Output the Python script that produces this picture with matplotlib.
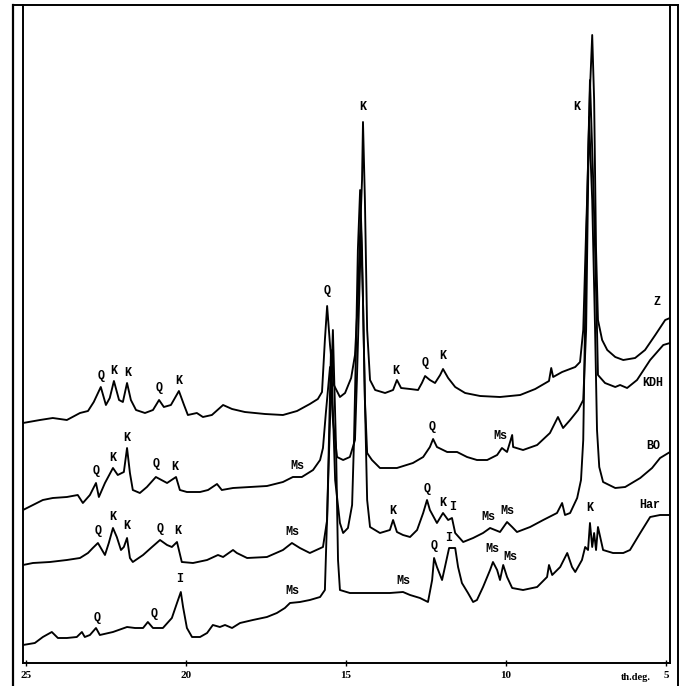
"""
XRD patterns (Z, KDH, BO, Har) with phase labels.
Intensities are arbitrary units read off the scan, stacked as in the original.
"""

import matplotlib
matplotlib.use("Agg")
import matplotlib.pyplot as plt
from matplotlib.lines import Line2D

# (two-theta, intensity)
Z_PATTERN = [
    (25.09, 240), (24.56, 243), (24.16, 245), (23.72, 243), (23.31, 250), (23.06, 252),
    (22.88, 261), (22.66, 276), (22.5, 258), (22.38, 265), (22.25, 282), (22.09, 263),
    (21.97, 261), (21.84, 280), (21.72, 263), (21.56, 253), (21.28, 250), (21.03, 253),
    (20.84, 263), (20.69, 256), (20.47, 258), (20.22, 272), (20.06, 258), (19.94, 248),
    (19.66, 250), (19.47, 246), (19.19, 248), (18.84, 258), (18.56, 254), (18.16, 251),
    (17.53, 249), (16.97, 248), (16.53, 252), (16.13, 259), (15.88, 264), (15.75, 271),
    (15.66, 323), (15.59, 357), (15.5, 318), (15.38, 278), (15.19, 266), (15.03, 270),
    (14.84, 285), (14.72, 308), (14.63, 363), (14.56, 431), (14.5, 483), (14.47, 541),
    (14.41, 463), (14.34, 333), (14.25, 283), (14.09, 273), (13.78, 270), (13.53, 273),
    (13.41, 283), (13.28, 275), (13.0, 274), (12.75, 273), (12.63, 280), (12.53, 287),
    (12.38, 283), (12.22, 280), (12.06, 288), (11.97, 294), (11.81, 285), (11.59, 276),
    (11.28, 270), (10.81, 267), (10.19, 266), (9.56, 268), (9.09, 274), (8.66, 282),
    (8.59, 295), (8.53, 286), (8.25, 291), (7.84, 296), (7.69, 301), (7.59, 333),
    (7.5, 433), (7.47, 463), (7.38, 573), (7.31, 628), (7.25, 563), (7.19, 413),
    (7.13, 343), (7.0, 323), (6.84, 313), (6.59, 306), (6.34, 303), (5.97, 305),
    (5.66, 313), (5.34, 328), (5.03, 343), (4.88, 345),
]

BO_PATTERN = [
    (25.09, 153), (24.78, 158), (24.47, 163), (24.16, 165), (23.72, 166), (23.38, 168),
    (23.22, 160), (23.0, 168), (22.81, 180), (22.72, 166), (22.53, 180), (22.28, 195),
    (22.13, 188), (21.94, 191), (21.84, 215), (21.75, 190), (21.66, 173), (21.44, 170),
    (21.22, 176), (20.94, 186), (20.59, 180), (20.31, 186), (20.19, 173), (19.97, 171),
    (19.56, 171), (19.31, 173), (19.03, 179), (18.88, 173), (18.53, 175), (18.0, 176),
    (17.47, 177), (16.97, 181), (16.66, 186), (16.38, 186), (16.03, 193), (15.81, 203),
    (15.72, 215), (15.63, 250), (15.5, 296), (15.41, 243), (15.28, 206), (15.09, 203),
    (14.88, 206), (14.72, 223), (14.66, 283), (14.59, 363), (14.53, 433), (14.47, 363),
    (14.41, 263), (14.34, 210), (14.19, 203), (13.94, 195), (13.41, 195), (12.91, 200),
    (12.59, 206), (12.38, 216), (12.28, 224), (12.16, 216), (11.84, 211), (11.53, 211),
    (11.22, 206), (10.91, 203), (10.59, 203), (10.28, 208), (10.13, 215), (9.97, 211),
    (9.81, 228), (9.78, 216), (9.47, 213), (9.03, 218), (8.63, 230), (8.38, 246),
    (8.22, 235), (8.0, 243), (7.75, 253), (7.59, 263), (7.5, 333), (7.41, 546),
    (7.31, 463), (7.22, 333), (7.16, 233), (7.09, 196), (6.97, 181), (6.59, 175),
    (6.28, 176), (5.81, 185), (5.44, 195), (5.19, 205), (4.88, 211),
]

KDH_PATTERN = [
    (25.09, 98), (24.78, 100), (24.25, 101), (23.72, 103), (23.31, 105), (23.06, 110),
    (22.91, 115), (22.75, 120), (22.53, 108), (22.41, 120), (22.28, 135), (22.16, 126),
    (22.03, 113), (21.94, 116), (21.84, 125), (21.75, 105), (21.66, 101), (21.34, 108),
    (21.06, 116), (20.81, 123), (20.59, 118), (20.44, 116), (20.28, 121), (20.13, 101),
    (19.78, 100), (19.34, 103), (19.0, 108), (18.84, 106), (18.53, 113), (18.41, 110),
    (18.09, 105), (17.47, 106), (16.97, 113), (16.69, 120), (16.44, 115), (16.13, 110),
    (15.72, 116), (15.59, 143), (15.47, 313), (15.34, 183), (15.19, 140), (15.09, 130),
    (14.94, 135), (14.81, 158), (14.75, 223), (14.69, 313), (14.63, 413), (14.56, 473),
    (14.5, 413), (14.41, 263), (14.34, 163), (14.25, 136), (13.94, 130), (13.63, 133),
    (13.53, 143), (13.41, 131), (13.22, 128), (13.0, 126), (12.78, 133), (12.59, 150),
    (12.47, 163), (12.38, 153), (12.16, 140), (11.97, 150), (11.81, 143), (11.69, 145),
    (11.59, 130), (11.34, 121), (11.03, 125), (10.72, 130), (10.5, 135), (10.19, 131),
    (9.97, 141), (9.81, 136), (9.66, 131), (9.25, 136), (8.84, 143), (8.41, 150),
    (8.25, 160), (8.16, 148), (8.0, 150), (7.78, 165), (7.66, 183), (7.59, 223),
    (7.5, 413), (7.38, 583), (7.28, 483), (7.22, 413), (7.16, 333), (7.13, 288),
    (6.91, 280), (6.59, 276), (6.44, 278), (6.22, 275), (5.91, 283), (5.5, 303),
    (5.09, 318), (4.88, 320),
]

HAR_PATTERN = [
    (25.09, 18), (24.72, 20), (24.47, 26), (24.19, 31), (24.0, 25), (23.72, 25),
    (23.41, 26), (23.25, 31), (23.16, 26), (23.0, 28), (22.81, 35), (22.69, 28),
    (22.28, 31), (21.84, 36), (21.59, 35), (21.34, 35), (21.19, 41), (21.03, 35),
    (20.72, 35), (20.44, 45), (20.28, 60), (20.16, 71), (20.09, 56), (19.97, 35),
    (19.81, 26), (19.56, 26), (19.34, 30), (19.16, 38), (18.94, 36), (18.78, 38),
    (18.56, 35), (18.31, 40), (17.91, 43), (17.47, 46), (17.16, 50), (16.91, 55),
    (16.75, 60), (16.44, 61), (16.13, 63), (15.81, 66), (15.66, 73), (15.5, 243),
    (15.41, 333), (15.31, 213), (15.25, 103), (15.19, 73), (14.88, 70), (14.25, 70),
    (13.63, 70), (13.22, 71), (13.0, 68), (12.69, 65), (12.44, 61), (12.31, 83),
    (12.25, 105), (12.16, 96), (12.0, 83), (11.91, 96), (11.78, 115), (11.59, 115),
    (11.5, 96), (11.38, 80), (11.19, 70), (11.03, 61), (10.91, 63), (10.72, 76),
    (10.5, 93), (10.41, 101), (10.28, 93), (10.19, 83), (10.09, 98), (9.97, 86),
    (9.81, 75), (9.47, 73), (9.03, 76), (8.72, 86), (8.66, 98), (8.56, 88),
    (8.31, 96), (8.09, 110), (7.94, 96), (7.84, 91), (7.63, 103), (7.53, 116),
    (7.44, 113), (7.38, 140), (7.31, 116), (7.25, 130), (7.19, 113), (7.13, 136),
    (7.06, 126), (6.97, 113), (6.66, 110), (6.34, 110), (6.13, 113), (5.81, 130),
    (5.5, 146), (5.19, 148), (4.88, 148),
]

# (label, two-theta, intensity) for peak and sample labels
Z_LABELS = [
    ("Q", 22.66, 287), ("K", 22.25, 292), ("K", 21.81, 290), ("Q", 20.84, 275),
    ("K", 20.22, 282), ("Q", 15.59, 372), ("K", 14.47, 556), ("K", 13.44, 292),
    ("Q", 12.53, 300), ("K", 11.97, 307), ("K", 7.78, 556), ("Z", 5.28, 361),
]
BO_LABELS = [
    ("Q", 22.81, 192), ("K", 22.28, 205), ("K", 21.84, 225), ("Q", 20.94, 199),
    ("K", 20.34, 196), ("Ms", 16.53, 197), ("Q", 12.31, 236), ("Ms", 10.19, 227),
    ("BO", 5.41, 217),
]
KDH_LABELS = [
    ("Q", 22.75, 132), ("K", 22.28, 146), ("K", 21.84, 137), ("Q", 20.81, 134),
    ("K", 20.25, 132), ("Ms", 16.69, 131), ("K", 13.53, 152), ("Q", 12.47, 174),
    ("K", 11.97, 160), ("I", 11.66, 156), ("Ms", 10.56, 146), ("Ms", 9.97, 152),
    ("KDH", 5.41, 280),
]
HAR_LABELS = [
    ("Q", 22.78, 45), ("Q", 21.0, 49), ("I", 20.19, 84), ("Ms", 16.69, 72),
    ("Ms", 13.22, 82), ("Q", 12.25, 117), ("I", 11.81, 125), ("Ms", 10.44, 114),
    ("Ms", 9.88, 106), ("K", 7.38, 155), ("Har", 5.5, 158),
]

TICKS = [25, 20, 15, 10, 5]


def plot_pattern(ax, pattern, labels):
    theta = [p[0] for p in pattern]
    inten = [p[1] for p in pattern]
    ax.plot(theta, inten, color="black", linewidth=1.35,
            solid_joinstyle="round", solid_capstyle="round")
    for text, t, i in labels:
        ax.text(t, i, text, ha="center", va="center", fontsize=8.5,
                family="Liberation Mono", weight="bold")


def main():
    fig = plt.figure(figsize=(6.84, 6.86), dpi=100)
    ax = fig.add_axes([23 / 684, 23 / 686, 647 / 684, 658 / 686])

    for pattern, labels in [(Z_PATTERN, Z_LABELS), (BO_PATTERN, BO_LABELS),
                            (KDH_PATTERN, KDH_LABELS), (HAR_PATTERN, HAR_LABELS)]:
        plot_pattern(ax, pattern, labels)

    ax.set_xlim(25.09, 4.88)
    ax.set_ylim(0, 658)
    ax.set_yticks([])
    ax.set_xticks(TICKS)
    ax.set_xticklabels([str(t) for t in TICKS], family="Liberation Serif",
                       weight="bold", fontsize=8)
    ax.tick_params(axis="x", direction="inout", length=5, width=1, pad=3)
    ax.spines["top"].set_visible(False)
    for side in ["left", "right", "bottom"]:
        ax.spines[side].set_linewidth(1.4)

    fig.text(636 / 684, 1 - 677 / 686, "th.deg.", ha="center", va="center",
             family="Liberation Serif", weight="bold", fontsize=7.5)

    # outer frame of the scanned figure
    fig.add_artist(Line2D([13 / 684, 13 / 684], [0, 1 - 4.5 / 686], color="black", linewidth=1.6))
    fig.add_artist(Line2D([678 / 684, 678 / 684], [0, 1 - 4.5 / 686], color="black", linewidth=1.4))
    fig.add_artist(Line2D([13 / 684, 678 / 684], [1 - 4.5 / 686, 1 - 4.5 / 686], color="black", linewidth=1.4))

    fig.savefig("out.png", dpi=100, facecolor="white")


if __name__ == "__main__":
    main()
